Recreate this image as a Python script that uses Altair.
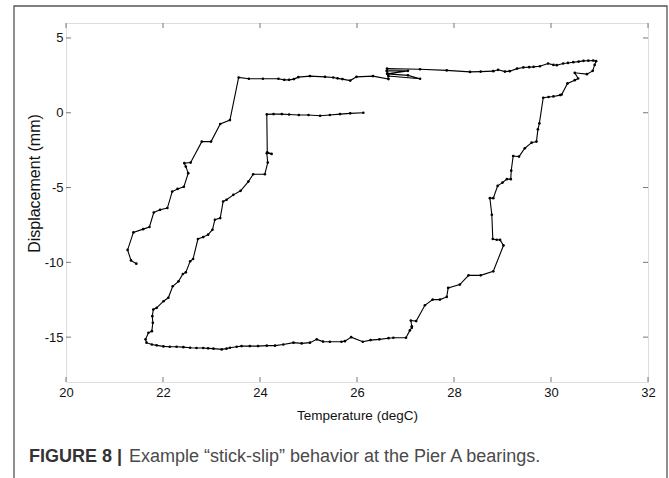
import altair as alt
import pandas as pd

# ---- data (ordered path) ----
temperature = [
    # outer left branch (upwards)
    21.45, 21.34, 21.27, 21.39, 21.59, 21.72, 21.81, 21.94, 22.09, 22.19, 22.30, 22.43,
    22.52, 22.47, 22.44, 22.57, 22.80, 22.99, 23.18, 23.38, 23.56,
    # top branch (rightwards)
    23.77, 24.06, 24.38, 24.50, 24.60, 24.70, 24.79, 25.03, 25.34, 25.51, 25.60, 25.70,
    25.86, 25.99, 26.33, 26.65, 26.61, 27.05, 26.62, 27.05, 27.30, 26.65, 26.62, 27.30,
    27.85, 28.33, 28.55, 28.81, 28.91, 29.05, 29.15, 29.30, 29.43, 29.55, 29.64, 29.77,
    29.94, 30.05, 30.12, 30.25, 30.35, 30.46, 30.57, 30.67, 30.77, 30.87, 30.93,
    # right branch (downwards)
    30.90, 30.86, 30.74, 30.49, 30.56, 30.49, 30.34, 30.22, 30.19, 30.05, 29.95, 29.84,
    29.76, 29.73, 29.70, 29.60, 29.46, 29.34, 29.22, 29.18, 29.17, 29.09, 29.00, 28.90,
    28.81, 28.74, 28.78, 28.80, 28.88, 28.95, 29.02, 28.81, 28.55, 28.30, 28.12, 27.88,
    27.85, 27.71, 27.56, 27.40, 27.22, 27.11, 27.13, 27.13, 27.09, 27.01,
    # bottom branch (leftwards)
    26.75, 26.65, 26.46, 26.28, 26.12, 25.88, 25.75, 25.68, 25.44, 25.30, 25.17, 25.03,
    24.86, 24.69, 24.48, 24.31, 24.14, 23.96, 23.79, 23.62, 23.52, 23.38, 23.31, 23.21,
    23.04, 22.93, 22.83, 22.69, 22.56, 22.42, 22.28, 22.14, 22.01, 21.87, 21.77, 21.66,
    21.64,
    # inner left branch (upwards)
    21.70, 21.77, 21.79, 21.78, 21.80, 21.87, 22.01, 22.11, 22.20, 22.32, 22.41, 22.47,
    22.56, 22.62, 22.72, 22.83, 22.93, 23.02, 23.07, 23.18, 23.24, 23.31, 23.45, 23.60,
    23.76, 23.86, 24.10, 24.16, 24.14, 24.24, 24.15, 24.14,
    # inner top branch (rightwards)
    24.28, 24.45, 24.60, 24.80, 25.00, 25.24, 25.44, 25.65, 25.86, 26.13,
]
displacement = [
    -10.09, -9.87, -9.17, -8.00, -7.78, -7.64, -6.67, -6.49, -6.37, -5.27, -5.09, -4.95,
    -4.04, -3.60, -3.37, -3.33, -1.93, -1.93, -0.75, -0.49, 2.36,
    2.27, 2.27, 2.27, 2.20, 2.20, 2.25, 2.38, 2.45, 2.40, 2.36, 2.30, 2.25,
    2.15, 2.40, 2.45, 2.25, 2.80, 2.80, 2.60, 2.50, 2.27, 2.45, 2.95, 2.91,
    2.83, 2.73, 2.75, 2.78, 2.87, 2.75, 2.78, 2.95, 3.03, 3.05, 3.07, 3.11,
    3.29, 3.20, 3.18, 3.29, 3.33, 3.38, 3.42, 3.47, 3.48, 3.49, 3.45,
    3.20, 2.80, 2.58, 2.67, 2.29, 2.18, 1.96, 1.22, 1.18, 1.09, 1.05, 1.00,
    -0.71, -1.11, -1.93, -2.00, -2.37, -2.93, -2.89, -3.87, -4.44, -4.44, -4.67, -4.89,
    -5.71, -5.71, -6.82, -8.44, -8.49, -8.50, -8.87, -10.60, -10.87, -10.87, -11.49, -11.71,
    -12.31, -12.49, -12.49, -12.87, -13.93, -13.89, -14.27, -14.37, -14.55, -15.04,
    -15.04, -15.07, -15.15, -15.20, -15.31, -15.00, -15.27, -15.31, -15.31, -15.30, -15.15, -15.37,
    -15.42, -15.37, -15.49, -15.57, -15.57, -15.60, -15.60, -15.60, -15.64, -15.71, -15.77, -15.82,
    -15.77, -15.75, -15.73, -15.73, -15.71, -15.67, -15.64, -15.64, -15.62, -15.55, -15.49, -15.37,
    -15.15,
    -14.71, -14.60, -14.04, -13.60, -13.15, -13.04, -12.60, -12.37, -11.60, -11.27, -10.78, -10.67,
    -9.93, -9.78, -8.44, -8.31, -8.15, -7.82, -7.15, -7.04, -5.93, -5.82, -5.49, -5.22,
    -4.60, -4.11, -4.11, -3.33, -2.71, -2.75, -2.65, -0.11,
    -0.09, -0.09, -0.12, -0.15, -0.15, -0.20, -0.15, -0.09, -0.04, 0.00,
]
x_ticks = [20, 22, 24, 26, 28, 30, 32]
y_ticks = [-15, -10, -5, 0, 5]
x_title = "Temperature (degC)"
y_title = "Displacement (mm)"
caption_bold = "FIGURE 8 |"
caption_text = "Example \u201cstick-slip\u201d behavior at the Pier A bearings."

W, H = 582, 359
FONT = "Liberation Sans"

df = pd.DataFrame({"T": temperature, "D": displacement, "i": list(range(len(temperature)))})
xt = pd.DataFrame({"t": x_ticks})
yt = pd.DataFrame({"t": y_ticks})
one = pd.DataFrame({"a": [0]})

xs = alt.Scale(domain=[20, 32], nice=False, zero=False)
ys = alt.Scale(domain=[-18, 6], nice=False, zero=False)

hyphen_expr = "datum.value < 0 ? '-' + (-datum.value) : '' + datum.value"

x_axis = alt.Axis(
    title=x_title, values=x_ticks, grid=False, ticks=False, domain=False,
    labelFlush=False, labelPadding=4, labelFontSize=13, titleFontSize=13.5,
    titlePadding=9, titleFontWeight="normal", labelColor="#111", titleColor="#111")
y_axis = alt.Axis(
    title=y_title, values=y_ticks, grid=False, ticks=False, domain=False,
    labelFlush=False, labelPadding=3, labelFontSize=13, titleFontSize=16,
    labelExpr=hyphen_expr,
    titleX=-24, titleY=160, titleFontWeight="normal", labelColor="#111", titleColor="#111")

frame = alt.Chart(one).mark_rect(fill="white", fillOpacity=0, stroke="#555555", strokeWidth=1.3).encode(
    x=alt.value(-52), x2=alt.value(601), y=alt.value(-17), y2=alt.value(470)
)

line = alt.Chart(df).mark_line(color="black", strokeWidth=1.1).encode(
    x=alt.X("T:Q", scale=xs, axis=x_axis),
    y=alt.Y("D:Q", scale=ys, axis=y_axis),
    order=alt.Order("i:Q"),
)

pts = alt.Chart(df).mark_circle(color="black", size=7, opacity=1).encode(
    x=alt.X("T:Q", scale=xs, axis=x_axis),
    y=alt.Y("D:Q", scale=ys, axis=y_axis),
)

tick_col = "#777777"
xb = alt.Chart(xt).mark_rule(color=tick_col, strokeWidth=1).encode(
    x=alt.X("t:Q", scale=xs, axis=x_axis), y=alt.value(H), y2=alt.value(H - 5))
xtop = alt.Chart(xt).mark_rule(color=tick_col, strokeWidth=1).encode(
    x=alt.X("t:Q", scale=xs, axis=x_axis), y=alt.value(0), y2=alt.value(5))
yl = alt.Chart(yt).mark_rule(color=tick_col, strokeWidth=1).encode(
    y=alt.Y("t:Q", scale=ys, axis=y_axis), x=alt.value(0), x2=alt.value(5))
yr = alt.Chart(yt).mark_rule(color=tick_col, strokeWidth=1).encode(
    y=alt.Y("t:Q", scale=ys, axis=y_axis), x=alt.value(W - 5), x2=alt.value(W))

cap1 = alt.Chart(one).mark_text(align="left", baseline="alphabetic", fontSize=18,
                                fontWeight="bold", font=FONT, color="#333333").encode(
    x=alt.value(-37), y=alt.value(439), text=alt.value(caption_bold))
cap2 = alt.Chart(one).mark_text(align="left", baseline="alphabetic", fontSize=18,
                                font=FONT, color="#4a4a4a").encode(
    x=alt.value(63), y=alt.value(439), text=alt.value(caption_text))

chart = alt.layer(frame, line, pts, xb, xtop, yl, yr, cap1, cap2).properties(
    width=W, height=H,
    autosize=alt.AutoSizeParams(type="none"),
    padding={"left": 66, "top": 23, "right": 21, "bottom": 96},
).configure_view(stroke="#8a8a8a", strokeWidth=1).configure_axis(
    labelFont=FONT, titleFont=FONT
).configure(background="white")

chart.save("out.html", embed_options={"renderer": "svg", "actions": False})
